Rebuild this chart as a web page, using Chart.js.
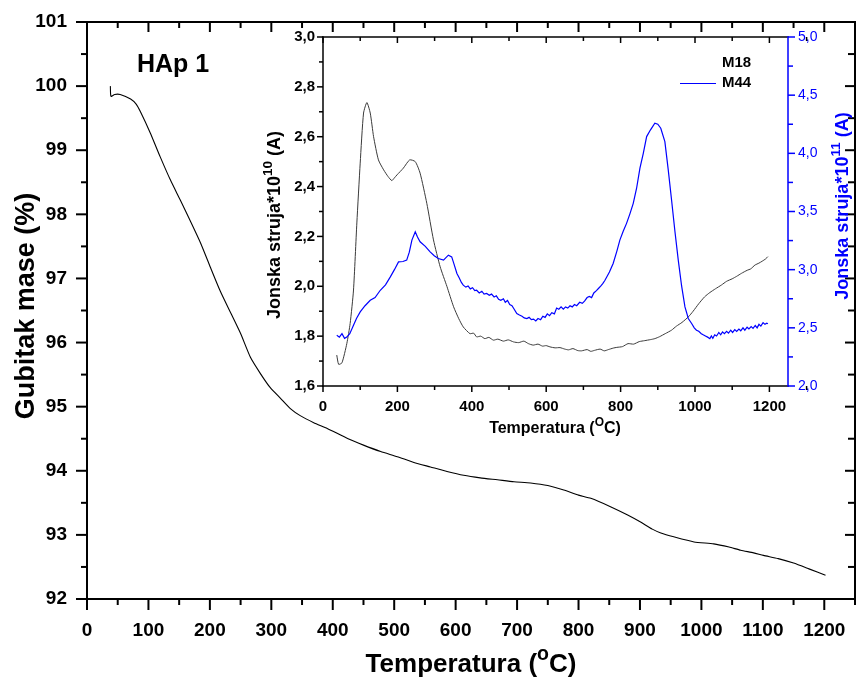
<!DOCTYPE html>
<html>
<head>
<meta charset="utf-8">
<script src="https://cdn.jsdelivr.net/npm/chart.js@4.4.1/dist/chart.umd.min.js"></script>
<style>
  body { margin: 0; background: #fff; }
  #wrap { position: relative; width: 857px; height: 677px; }
  #mainChart { position: absolute; left: 0; top: 0; }
  #insetChart { position: absolute; left: 240px; top: 25px; }
</style>
</head>
<body>
<div id="wrap">
  <canvas id="mainChart" width="857" height="677"></canvas>
  <canvas id="insetChart" width="617" height="425"></canvas>
</div>
<script>
// TGA curve, main chart
var tgaTemp = [38, 39, 45, 54, 71, 80, 87, 103, 119, 136, 152, 168, 185, 201, 217, 234, 250, 266, 282,
    298, 315, 331, 347, 369, 391, 425, 450, 478, 505, 532, 559, 586, 613, 640, 668, 695, 722, 750, 776,
    800, 820, 852, 880, 901, 920, 934, 955, 988, 1020, 1045, 1064, 1085, 1101, 1125, 1150, 1175, 1202];
var tgaMass = [100.0, 99.84, 99.87, 99.87, 99.8, 99.72, 99.6, 99.27, 98.9, 98.53, 98.22, 97.9, 97.55, 97.17, 96.8, 96.46, 96.14, 95.77, 95.52,
    95.3, 95.13, 94.97, 94.86, 94.75, 94.66, 94.5, 94.4, 94.3, 94.22, 94.13, 94.06, 93.99, 93.93, 93.89, 93.86, 93.83, 93.81, 93.77, 93.70,
    93.62, 93.57, 93.44, 93.31, 93.20, 93.09, 93.03, 92.97, 92.89, 92.86, 92.81, 92.76, 92.72, 92.68, 92.63, 92.56, 92.47, 92.37];
var mainXTicks = [0, 100, 200, 300, 400, 500, 600, 700, 800, 900, 1000, 1100, 1200];
var mainYTicks = [92, 93, 94, 95, 96, 97, 98, 99, 100, 101];

// Inset: MS ion current, M18 (left axis) and M44 (right axis)
var m18Temp = [37, 42, 51, 64, 73, 82, 91, 100, 109, 118, 127, 136, 149, 163, 175, 185, 192, 199, 216, 233, 248, 261, 279, 297,
    315, 333, 351, 365, 377, 395, 405, 413, 424, 435, 446, 458, 470, 485, 498, 512, 526, 540, 552, 565, 578, 590, 600, 610,
    624, 637, 650, 660, 672, 685, 695, 710, 720, 730, 745, 756, 767, 780, 790, 805, 820, 835, 850, 865, 880, 892, 905, 920, 937,
    950, 965, 982, 995, 1010, 1026, 1040, 1055, 1071, 1085, 1100, 1112, 1125, 1140, 1150, 1161, 1172, 1180, 1190, 1196];
var m18Value = [1.724, 1.687, 1.693, 1.77, 1.851, 1.985, 2.254, 2.494, 2.695, 2.737, 2.695, 2.60, 2.507, 2.467, 2.44, 2.424, 2.435, 2.447, 2.474, 2.507, 2.50, 2.454, 2.333, 2.186,
    2.078, 2.0, 1.918, 1.87, 1.837, 1.81, 1.812, 1.797, 1.8, 1.79, 1.795, 1.784, 1.788, 1.78, 1.785, 1.777, 1.774, 1.78, 1.77, 1.764, 1.768, 1.76, 1.762, 1.757,
    1.753, 1.754, 1.748, 1.745, 1.75, 1.742, 1.741, 1.746, 1.739, 1.743, 1.748, 1.741, 1.746, 1.752, 1.755, 1.758, 1.77, 1.768, 1.778, 1.782, 1.786, 1.79, 1.798, 1.81, 1.824,
    1.84, 1.855, 1.877, 1.9, 1.93, 1.958, 1.975, 1.99, 2.005, 2.02, 2.03, 2.04, 2.052, 2.064, 2.07, 2.085, 2.093, 2.10, 2.11, 2.119];

var m44Temp = [37, 44, 51, 58, 64, 72, 82, 90, 100, 113, 127, 140, 154, 168, 181, 192, 203, 215, 225, 232, 239, 248, 254, 261, 275, 288,
    299, 310, 324, 337, 346, 352,
    360, 366, 372, 377, 384, 390, 396, 402, 408, 413, 420, 427, 433, 440, 447, 453, 460, 466, 472, 478, 485, 490, 496, 502, 508, 514,
    521, 528, 535, 541, 548, 554, 560, 566, 572, 578, 585, 591, 597, 603, 609, 615, 622, 628, 634, 640, 646, 652, 658, 664, 670, 676,
    682, 690, 697, 703, 710, 716, 722, 728, 735, 741, 747, 752, 758,
    770, 780, 790, 798, 807, 816, 825, 834, 843, 852, 861, 870, 880, 892, 900, 908, 919, 928, 937, 946, 955, 964, 973, 982, 991,
    998, 1004, 1010, 1017, 1022, 1028, 1034, 1040, 1044, 1048, 1053, 1058, 1064, 1069, 1074, 1079, 1085, 1090, 1096, 1101, 1107, 1112,
    1118, 1123, 1129, 1134, 1140, 1145, 1151, 1156, 1162, 1167, 1172, 1177, 1183, 1188, 1193, 1196];
var m44Value = [2.436, 2.42, 2.45, 2.41, 2.421, 2.45, 2.522, 2.58, 2.637, 2.69, 2.737, 2.76, 2.823, 2.87, 2.938, 3.0, 3.067, 3.07, 3.082, 3.15, 3.254, 3.326, 3.28, 3.24, 3.2, 3.153,
    3.12, 3.096, 3.082, 3.125, 3.11, 3.05,
    2.967, 2.93, 2.89, 2.867, 2.85, 2.86, 2.835, 2.845, 2.82, 2.823, 2.80, 2.815, 2.79, 2.795, 2.78, 2.79, 2.765, 2.775, 2.745, 2.737, 2.75, 2.72, 2.735, 2.70, 2.69, 2.66,
    2.623, 2.61, 2.60, 2.585, 2.58, 2.59, 2.57, 2.575, 2.56, 2.58, 2.57, 2.6, 2.59, 2.62, 2.605, 2.63, 2.62, 2.67, 2.66, 2.68, 2.66, 2.68, 2.67, 2.69, 2.68, 2.7,
    2.69, 2.72, 2.71, 2.73, 2.76, 2.77, 2.76, 2.8, 2.82, 2.84, 2.86, 2.88, 2.909,
    2.98, 3.053, 3.16, 3.254, 3.33, 3.398, 3.48, 3.57, 3.7, 3.872, 4.0, 4.144, 4.2, 4.259, 4.25, 4.216, 4.101, 3.86, 3.599, 3.33, 3.082, 2.86, 2.68, 2.58, 2.537,
    2.5, 2.48, 2.47, 2.45, 2.44, 2.43, 2.42, 2.407, 2.43, 2.41, 2.44, 2.43, 2.46, 2.44, 2.465, 2.45, 2.47, 2.455, 2.48, 2.46, 2.485, 2.47,
    2.49, 2.475, 2.50, 2.48, 2.505, 2.49, 2.51, 2.495, 2.52, 2.50, 2.53, 2.515, 2.545, 2.53, 2.54, 2.535];
var insetXTicks = [0, 200, 400, 600, 800, 1000, 1200];
var insetLeftTicks = [1.6, 1.8, 2.0, 2.2, 2.4, 2.6, 2.8, 3.0];
var insetRightTicks = [2.0, 2.5, 3.0, 3.5, 4.0, 4.5, 5.0];

var FONT = '"Liberation Sans", Arial, sans-serif';
var BLUE = '#0000ff';

function toPoints(xs, ys) {
    return xs.map(function(x, i) { return {x: x, y: ys[i]}; });
}

function fixedTicks(values) {
    return function(scale) {
        scale.ticks = values.map(function(v) { return {value: v}; });
    };
}

// Fixes an axis box size and drops the label overflow padding Chart.js adds.
function fixSize(prop, size) {
    return function(s) {
        s[prop] = size;
        s.paddingTop = 0; s.paddingBottom = 0; s.paddingLeft = 0; s.paddingRight = 0;
    };
}

function plain(v) { return String(v); }
function comma(v) { return v.toFixed(1).replace('.', ','); }

/**
 *  Draws text with superscript parts, centred (or left aligned) at x,y.
 */
function richText(ctx, parts, x, y, size, color, rot, align) {
    ctx.save();
    ctx.translate(x, y);
    if (rot) ctx.rotate(rot);
    ctx.fillStyle = color;
    ctx.textBaseline = 'alphabetic';
    ctx.textAlign = 'left';
    var total = 0;
    parts.forEach(function(p) {
        ctx.font = 'bold ' + (p.sup ? size * 0.75 : size) + 'px ' + FONT;
        p.w = ctx.measureText(p.t).width;
        total += p.w;
    });
    var cx = align === 'left' ? 0 : -total / 2;
    parts.forEach(function(p) {
        ctx.font = 'bold ' + (p.sup ? size * 0.75 : size) + 'px ' + FONT;
        ctx.fillText(p.t, cx, p.sup ? -size * 0.45 : 0);
        cx += p.w;
    });
    ctx.restore();
}

/**
 *  Frame lines plus major/minor ticks on every side, from the chart's own scales.
 */
var frameTicks = {
    id: 'frameTicks',
    afterDraw: function(chart, args, opts) {
        var ctx = chart.ctx, a = chart.chartArea;
        ctx.save();
        opts.axes.forEach(function(ax) {
            var s = chart.scales[ax.scale];
            ctx.strokeStyle = ax.color;
            ctx.lineWidth = ax.lineWidth;
            var horiz = ax.side === 'top' || ax.side === 'bottom';
            var base = {top: a.top, bottom: a.bottom, left: a.left, right: a.right}[ax.side];
            var sign = (ax.side === 'bottom' || ax.side === 'right') ? 1 : -1;
            if (ax.dir === 'in') sign = -sign;
            ctx.lineCap = 'square';
            ctx.beginPath();
            if (horiz) { ctx.moveTo(a.left, base); ctx.lineTo(a.right, base); }
            else { ctx.moveTo(base, a.top); ctx.lineTo(base, a.bottom); }
            ctx.stroke();
            ctx.lineCap = 'butt';
            var n = Math.round((s.max - s.min) / ax.minor);
            for (var i = 0; i <= n; i++) {
                var v = s.min + i * ax.minor;
                var q = v / ax.major;
                var len = Math.abs(q - Math.round(q)) < 1e-6 ? ax.majorLen : ax.minorLen;
                var p = s.getPixelForValue(v);
                ctx.beginPath();
                if (horiz) { ctx.moveTo(p, base); ctx.lineTo(p, base + sign * len); }
                else { ctx.moveTo(base, p); ctx.lineTo(base + sign * len, p); }
                ctx.stroke();
            }
        });
        ctx.restore();
    }
};

/**
 *  Axis titles, chart label and the inset legend.
 */
var titles = {
    id: 'titles',
    afterDraw: function(chart, args, opts) {
        var ctx = chart.ctx;
        opts.items.forEach(function(it) {
            richText(ctx, it.parts, it.x, it.y, it.size, it.color || '#000', it.rot || 0, it.align);
        });
        if (opts.legend) {
            var lg = opts.legend;
            ctx.save();
            ctx.font = 'bold ' + lg.size + 'px ' + FONT;
            ctx.textBaseline = 'middle';
            ctx.fillStyle = '#000';
            lg.entries.forEach(function(e, i) {
                var y = lg.y + i * lg.gap;
                if (e.color) {
                    ctx.strokeStyle = e.color;
                    ctx.lineWidth = 1;
                    ctx.beginPath();
                    ctx.moveTo(lg.x - 42, y + 0.5);
                    ctx.lineTo(lg.x - 6, y + 0.5);
                    ctx.stroke();
                }
                ctx.fillText(e.label, lg.x, y);
            });
            ctx.restore();
        }
    }
};

var mainChart = new Chart(document.getElementById('mainChart').getContext('2d'), {
    type: 'line',
    data: {
        datasets: [{
            data: toPoints(tgaTemp, tgaMass),
            borderColor: '#000',
            borderWidth: 1.1,
            pointRadius: 0,
            tension: 0.2,
            fill: false
        }]
    },
    options: {
        animation: false,
        responsive: false,
        layout: { autoPadding: false, padding: { top: 22, right: 2, left: 0, bottom: 0 } },
        plugins: {
            legend: { display: false },
            tooltip: { enabled: false },
            frameTicks: {
                axes: [
                    { scale: 'x', side: 'bottom', dir: 'out', major: 100, minor: 50, majorLen: 11, minorLen: 6, color: '#000', lineWidth: 2 },
                    { scale: 'x', side: 'top', dir: 'in', major: 100, minor: 50, majorLen: 10, minorLen: 6, color: '#000', lineWidth: 2 },
                    { scale: 'y', side: 'left', dir: 'out', major: 1, minor: 0.5, majorLen: 11, minorLen: 6, color: '#000', lineWidth: 2 },
                    { scale: 'y', side: 'right', dir: 'in', major: 1, minor: 0.5, majorLen: 10, minorLen: 7, color: '#000', lineWidth: 2 }
                ]
            },
            titles: {
                items: [
                    { parts: [{t: 'Temperatura ('}, {t: 'o', sup: true}, {t: 'C)'}], x: 471, y: 672, size: 26 },
                    { parts: [{t: 'Gubitak mase (%)'}], x: 34, y: 306, size: 27, rot: -Math.PI / 2 },
                    { parts: [{t: 'HAp 1'}], x: 137, y: 72, size: 25, align: 'left' }
                ]
            }
        },
        scales: {
            x: {
                type: 'linear', min: 0, max: 1250,
                afterBuildTicks: fixedTicks(mainXTicks),
                afterFit: fixSize('height', 78),
                grid: { display: false, drawTicks: false },
                border: { display: false },
                ticks: {
                    autoSkip: false, maxRotation: 0, padding: 20, color: '#000',
                    font: { family: FONT, size: 19, weight: 'bold' },
                    callback: plain
                }
            },
            y: {
                type: 'linear', min: 92, max: 101,
                afterBuildTicks: fixedTicks(mainYTicks),
                afterFit: fixSize('width', 87),
                grid: { display: false, drawTicks: false },
                border: { display: false },
                ticks: {
                    autoSkip: false, padding: 20, color: '#000',
                    font: { family: FONT, size: 19, weight: 'bold' },
                    callback: plain
                }
            }
        }
    },
    plugins: [frameTicks, titles]
});

var insetChart = new Chart(document.getElementById('insetChart').getContext('2d'), {
    type: 'line',
    data: {
        datasets: [{
            label: 'M18',
            data: toPoints(m18Temp, m18Value),
            yAxisID: 'y',
            borderColor: '#3a3a3a',
            borderWidth: 1,
            pointRadius: 0,
            tension: 0.2,
            order: 1
        }, {
            label: 'M44',
            data: toPoints(m44Temp, m44Value),
            yAxisID: 'y2',
            borderColor: BLUE,
            borderWidth: 1.2,
            pointRadius: 0,
            tension: 0,
            order: 0
        }]
    },
    options: {
        animation: false,
        responsive: false,
        layout: { autoPadding: false, padding: { top: 12, right: 0, left: 0, bottom: 0 } },
        plugins: {
            legend: { display: false },
            tooltip: { enabled: false },
            frameTicks: {
                axes: [
                    { scale: 'x', side: 'bottom', dir: 'out', major: 200, minor: 100, majorLen: 6, minorLen: 4, color: '#000', lineWidth: 1.5 },
                    { scale: 'x', side: 'top', dir: 'in', major: 200, minor: 100, majorLen: 6, minorLen: 4, color: '#000', lineWidth: 1.5 },
                    { scale: 'y', side: 'left', dir: 'out', major: 0.2, minor: 0.1, majorLen: 6, minorLen: 4, color: '#000', lineWidth: 1.5 },
                    { scale: 'y2', side: 'right', dir: 'out', major: 0.5, minor: 0.25, majorLen: 7, minorLen: 5, color: BLUE, lineWidth: 1.5 }
                ]
            },
            titles: {
                items: [
                    { parts: [{t: 'Temperatura ('}, {t: 'O', sup: true}, {t: 'C)'}], x: 315, y: 408, size: 16 },
                    { parts: [{t: 'Jonska struja*10'}, {t: '10', sup: true}, {t: ' (A)'}], x: 40, y: 200, size: 18, rot: -Math.PI / 2 },
                    { parts: [{t: 'Jonska struja*10'}, {t: '11', sup: true}, {t: ' (A)'}], x: 608, y: 181, size: 18, rot: -Math.PI / 2, color: BLUE }
                ],
                legend: {
                    x: 482, y: 38, gap: 20, size: 15,
                    entries: [{ label: 'M18' }, { label: 'M44', color: BLUE }]
                }
            }
        },
        scales: {
            x: {
                type: 'linear', min: 0, max: 1250,
                afterBuildTicks: fixedTicks(insetXTicks),
                afterFit: fixSize('height', 64),
                grid: { display: false, drawTicks: false },
                border: { display: false },
                ticks: {
                    autoSkip: false, maxRotation: 0, padding: 12, color: '#000',
                    font: { family: FONT, size: 15, weight: 'bold' },
                    callback: plain
                }
            },
            y: {
                type: 'linear', position: 'left', min: 1.6, max: 3.0,
                afterBuildTicks: fixedTicks(insetLeftTicks),
                afterFit: fixSize('width', 83),
                grid: { display: false, drawTicks: false },
                border: { display: false },
                ticks: {
                    autoSkip: false, padding: 8, color: '#000',
                    font: { family: FONT, size: 15, weight: 'bold' },
                    callback: comma
                }
            },
            y2: {
                type: 'linear', position: 'right', min: 2.0, max: 5.0,
                afterBuildTicks: fixedTicks(insetRightTicks),
                afterFit: fixSize('width', 69),
                grid: { display: false, drawTicks: false },
                border: { display: false },
                ticks: {
                    autoSkip: false, padding: 10, color: BLUE,
                    font: { family: FONT, size: 14 },
                    callback: comma
                }
            }
        }
    },
    plugins: [frameTicks, titles]
});
</script>
</body>
</html>
